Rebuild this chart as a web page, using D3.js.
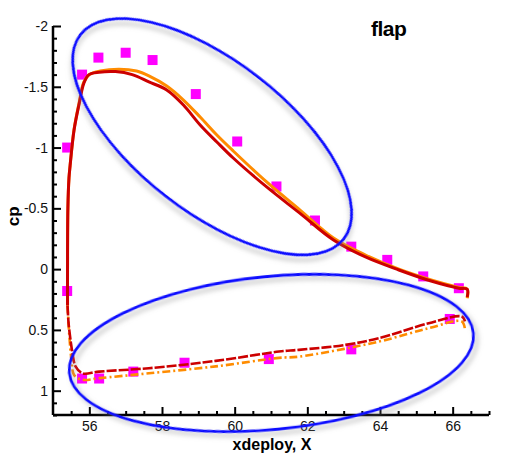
<!DOCTYPE html>
<html>
<head>
<meta charset="utf-8">
<script src="https://cdn.jsdelivr.net/npm/d3@7"></script>
<style>
  html, body { margin: 0; padding: 0; background: #fff; }
  svg { display: block; }
  text { font-family: Arial, "Liberation Sans", sans-serif; }
</style>
</head>
<body>
<svg id="chart" width="520" height="454"></svg>
<script>
// ---------- data ----------
const xTicks = [56, 58, 60, 62, 64, 66];
const yTicks = [-2, -1.5, -1, -0.5, 0, 0.5, 1];
const yTickLabels = ["-2", "-1.5", "-1", "-0.5", "0", "0.5", "1"];

// experimental points (x, cp)
const expX  = [55.39, 55.80, 56.25, 57.00, 57.74, 58.93, 60.07, 61.15, 62.21, 63.21, 64.20, 65.19, 66.17,
               55.39, 55.80, 56.27, 57.21, 58.62, 60.94, 63.21, 65.92];
const expCp = [-1.00, -1.60, -1.74, -1.78, -1.72, -1.44, -1.05, -0.68, -0.40, -0.185, -0.076, 0.06, 0.157,
               0.18, 0.90, 0.90, 0.843, 0.77, 0.74, 0.66, 0.41];

// computed curve 1 (red)
const redUpperX  = [55.40, 55.40, 55.41, 55.44, 55.47, 55.58, 55.72, 55.85, 55.99, 56.27, 56.72, 57.18, 57.64, 58.13, 58.59, 59.05, 59.51, 59.96, 60.88, 61.80, 62.72, 63.60, 64.52, 65.43, 66.17, 66.40, 66.40];
const redUpperCp = [0.30, 0.00, -0.50, -0.75, -0.85, -1.145, -1.36, -1.53, -1.60, -1.62, -1.625, -1.60, -1.54, -1.474, -1.350, -1.186, -1.046, -0.914, -0.676, -0.459, -0.240, -0.10, 0.007, 0.10, 0.157, 0.165, 0.23];
const redLowerX  = [55.40, 55.43, 55.49, 55.53, 55.62, 55.81, 56.27, 57.64, 59.48, 61.22, 61.77, 63.05, 63.97, 65.34, 66.25, 66.34];
const redLowerCp = [0.30, 0.45, 0.60, 0.68, 0.80, 0.857, 0.843, 0.815, 0.755, 0.678, 0.664, 0.623, 0.568, 0.445, 0.39, 0.43];

// computed curve 2 (orange)
const orgUpperX  = [55.40, 55.40, 55.41, 55.44, 55.47, 55.58, 55.72, 55.85, 56.00, 56.30, 56.82, 57.30, 57.64, 58.13, 58.59, 59.05, 59.51, 59.96, 60.88, 61.80, 62.72, 63.60, 64.52, 65.43, 66.17, 66.40, 66.40];
const orgUpperCp = [0.30, 0.00, -0.50, -0.75, -0.85, -1.15, -1.37, -1.54, -1.60, -1.63, -1.645, -1.63, -1.59, -1.506, -1.391, -1.251, -1.103, -0.972, -0.717, -0.486, -0.256, -0.116, 0.00, 0.09, 0.15, 0.165, 0.24];
const orgLowerX  = [55.40, 55.45, 55.51, 55.58, 55.81, 56.27, 57.64, 59.48, 61.22, 61.77, 63.97, 65.34, 66.25, 66.34];
const orgLowerCp = [0.30, 0.55, 0.75, 0.87, 0.91, 0.897, 0.857, 0.80, 0.73, 0.72, 0.596, 0.486, 0.43, 0.50];

// annotation ellipses: centre in data units, semi-axes in x-data units, rotation in degrees
const ellCx    = [59.38, 61.01];
const ellCp    = [-1.089, 0.690];
const ellA     = [4.586, 5.588];
const ellB     = [2.075, 2.106];
const ellAngle = [37.8, -5.6];

// ---------- drawing ----------
const svg = d3.select("#chart");
const x = d3.scaleLinear().domain([55, 67]).range([53, 489]);
const y = d3.scaleLinear().domain([-2, 1.2]).range([26, 415]);

const defs = svg.append("defs");
const f = defs.append("filter").attr("id", "shadow")
  .attr("x", "-20%").attr("y", "-20%").attr("width", "140%").attr("height", "140%");
f.append("feDropShadow").attr("dx", 3).attr("dy", 4).attr("stdDeviation", 2.5)
  .attr("flood-color", "#888").attr("flood-opacity", 0.55);

// axes
const xAxis = d3.axisBottom(x).tickValues(xTicks).tickFormat(d3.format("d")).tickSize(-8).tickPadding(6);
const xMinor = d3.axisBottom(x).tickValues(d3.range(55.5, 67.01, 0.5).filter(v => !xTicks.includes(v))).tickSize(-4).tickFormat("");
const yAxis = d3.axisLeft(y).tickValues(yTicks).tickFormat((d, i) => yTickLabels[i]).tickSize(-8).tickPadding(5);
const yMinor = d3.axisLeft(y).tickValues(d3.range(-19, 13).map(v => v / 10).filter(v => !yTicks.some(t => Math.abs(t - v) < 1e-9))).tickSize(-4).tickFormat("");

function styleAxis(g) {
  g.select(".domain").attr("stroke", "#000").attr("stroke-width", 2.5);
  g.selectAll(".tick line").attr("stroke", "#000").attr("stroke-width", 2);
  g.selectAll(".tick text").attr("font-size", 14).attr("fill", "#111")
    .attr("font-family", "Arial, 'Liberation Sans', sans-serif");
}
svg.append("g").attr("transform", `translate(0,${y(1.2)})`).call(xMinor).call(styleAxis).select(".domain").remove();
svg.append("g").attr("transform", `translate(${x(55)},0)`).call(yMinor).call(styleAxis).select(".domain").remove();
svg.append("g").attr("transform", `translate(0,${y(1.2)})`).call(xAxis).call(g => {
  styleAxis(g);
  g.select(".domain").attr("d", `M${x(55)},0H${x(67)}`);
});
svg.append("g").attr("transform", `translate(${x(55)},0)`).call(yAxis).call(g => {
  styleAxis(g);
  g.select(".domain").attr("d", `M0,${y(-2)}V${y(1.2)}`);
});

// axis titles
svg.append("text").attr("x", (x(55) + x(67)) / 2 + 1).attr("y", 450)
  .attr("text-anchor", "middle").attr("font-weight", "bold").attr("font-size", 16).text("xdeploy, X");
svg.append("text").attr("transform", `translate(19,${y(-0.5) + 8}) rotate(-90)`)
  .attr("text-anchor", "middle").attr("font-weight", "bold").attr("font-size", 17).text("cp");
svg.append("text").attr("x", 371).attr("y", 36)
  .attr("font-weight", "bold").attr("font-size", 21).attr("letter-spacing", -0.5).text("flap");

// experimental squares
const sq = 10;
svg.append("g").selectAll("rect").data(d3.range(expX.length)).join("rect")
  .attr("x", i => x(expX[i]) - sq / 2).attr("y", i => y(expCp[i]) - sq / 2)
  .attr("width", sq).attr("height", sq).attr("fill", "#ff00ff");

// curves
const line = d3.line().x(d => x(d[0])).y(d => y(d[1])).curve(d3.curveCatmullRom.alpha(0.5));
const zip = (a, b) => a.map((v, i) => [v, b[i]]);
function drawCurve(xs, cs, color, width, dash) {
  svg.append("path").datum(zip(xs, cs)).attr("d", line)
    .attr("fill", "none").attr("stroke", color).attr("stroke-width", width)
    .attr("stroke-linejoin", "round")
    .attr("stroke-dasharray", dash || null);
}
drawCurve(orgLowerX, orgLowerCp, "#ff8c00", 2.6, "8,3,2,3");
drawCurve(redLowerX, redLowerCp, "#cc0000", 2.6, "10,2");
drawCurve(orgUpperX, orgUpperCp, "#ff8c00", 3);
drawCurve(redUpperX, redUpperCp, "#cc0000", 3);

// ellipses
const pxPerX = x(56) - x(55);
svg.append("g").selectAll("ellipse").data(d3.range(ellCx.length)).join("ellipse")
  .attr("transform", i => `translate(${x(ellCx[i])},${y(ellCp[i])}) rotate(${ellAngle[i]})`)
  .attr("rx", i => ellA[i] * pxPerX).attr("ry", i => ellB[i] * pxPerX)
  .attr("fill", "none").attr("stroke", "#1010ff").attr("stroke-width", 2.8)
  .attr("filter", "url(#shadow)");
</script>
</body>
</html>
